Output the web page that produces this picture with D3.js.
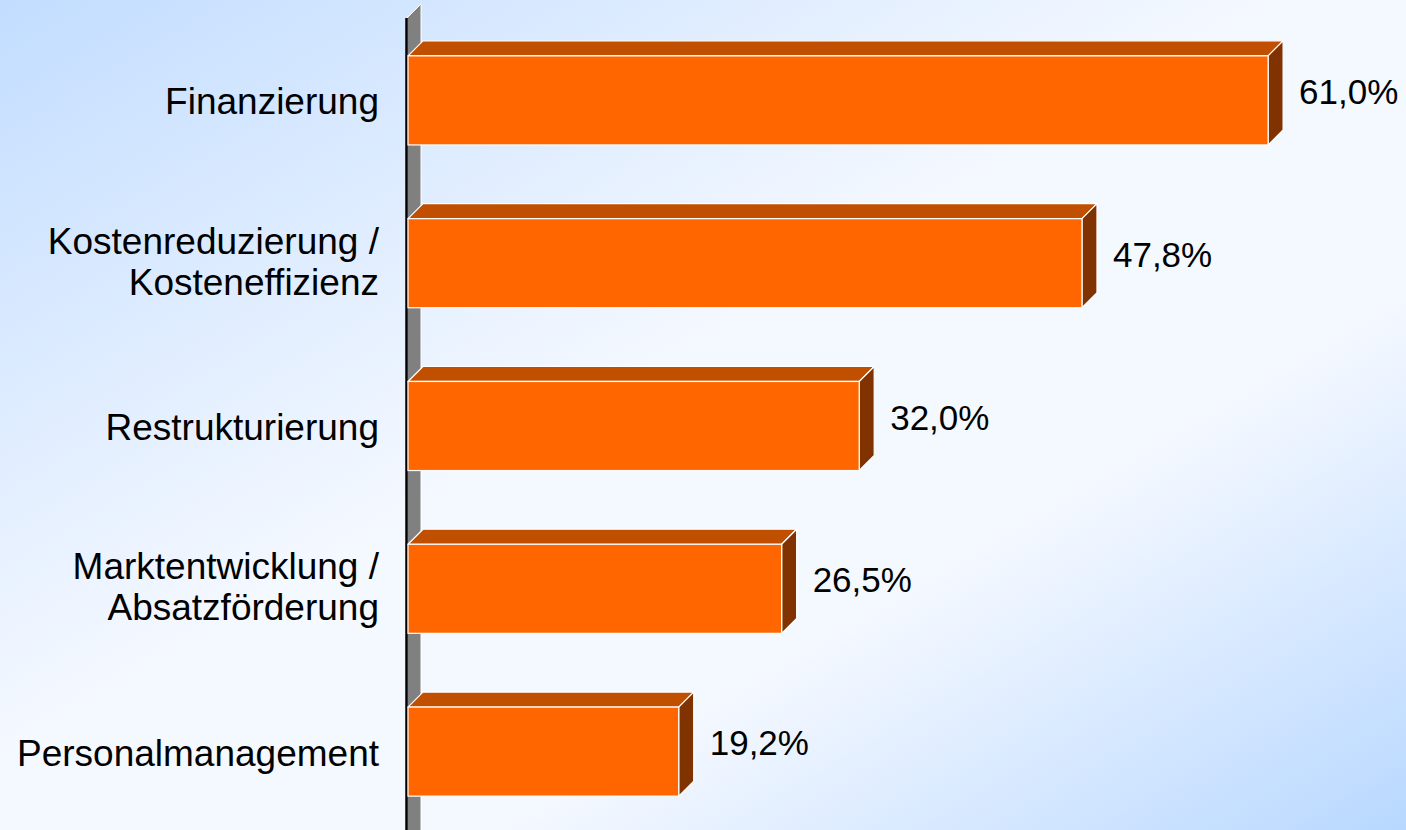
<!DOCTYPE html>
<html>
<head>
<meta charset="utf-8">
<style>
  body { margin: 0; padding: 0; overflow: hidden; }
  svg { display: block; font-family: "Liberation Sans", Arial, sans-serif; }
  .label text { fill: #000; font-size: 37px; text-anchor: end; }
  .value { fill: #000; font-size: 35px; }
</style>
</head>
<body>
<script src="https://cdn.jsdelivr.net/npm/d3@7"></script>
<script>
// chart data
var categories = ["Finanzierung", "Kostenreduzierung / Kosteneffizienz", "Restrukturierung",
                  "Marktentwicklung / Absatzförderung", "Personalmanagement"];
var labelLines = [["Finanzierung"], ["Kostenreduzierung /", "Kosteneffizienz"], ["Restrukturierung"],
                  ["Marktentwicklung /", "Absatzförderung"], ["Personalmanagement"]];
var values = [61.0, 47.8, 32.0, 26.5, 19.2];

var width = 1406, height = 830;
var depth = 15;   // 3d offset of the bars

var svg = d3.select("body").append("svg")
    .attr("width", width)
    .attr("height", height);

// background gradient
var grad = svg.append("defs").append("linearGradient")
    .attr("id", "bg")
    .attr("x1", 0).attr("y1", 0).attr("x2", 1).attr("y2", 1);
grad.append("stop").attr("offset", 0).attr("stop-color", "#c2ddff");
grad.append("stop").attr("offset", 0.45).attr("stop-color", "#f4f8ff");
grad.append("stop").attr("offset", 0.68).attr("stop-color", "#f4f8ff");
grad.append("stop").attr("offset", 1).attr("stop-color", "#b8d8ff");

svg.append("rect")
    .attr("width", width).attr("height", height)
    .attr("fill", "url(#bg)");

// scales
var x = d3.scaleLinear().domain([0, 70]).range([408, 408 + 70 * 14.1]);
var y = d3.scaleBand()
    .domain(categories)
    .range([19, 833])
    .paddingInner(0.453)
    .paddingOuter(0.2265);

var fmt = d3.formatLocale({decimal: ",", thousands: ".", grouping: [3], currency: ["", "€"]}).format(".1f");

// axis wall
var x0 = x(0);
svg.append("path")
    .attr("d", "M" + (x0 - 1) + "," + (height + 5) + "L" + (x0 - 1) + ",18L" + (x0 + 13) + ",4L" + (x0 + 13) + "," + (height + 5) + "Z")
    .attr("fill", "#808080")
    .attr("stroke", "#fff")
    .attr("stroke-width", 1);
svg.append("line")
    .attr("x1", x0 - 1.5).attr("x2", x0 - 1.5)
    .attr("y1", 18).attr("y2", height)
    .attr("stroke", "#000")
    .attr("stroke-width", 2.5);

// bars
var bars = svg.append("g").selectAll("g")
    .data(values)
    .enter().append("g");

bars.append("path") // top face
    .attr("d", function(d, i) {
      var yy = y(categories[i]), x1 = x(d);
      return "M" + x0 + "," + yy + "L" + (x0 + depth) + "," + (yy - depth) +
             "L" + (x1 + depth) + "," + (yy - depth) + "L" + x1 + "," + yy + "Z";
    })
    .attr("fill", "#c04f00")
    .attr("stroke", "#fff").attr("stroke-width", 1.2).attr("stroke-linejoin", "round");

bars.append("path") // side face
    .attr("d", function(d, i) {
      var yy = y(categories[i]), x1 = x(d), h = y.bandwidth();
      return "M" + x1 + "," + yy + "L" + (x1 + depth) + "," + (yy - depth) +
             "L" + (x1 + depth) + "," + (yy + h - depth) + "L" + x1 + "," + (yy + h) + "Z";
    })
    .attr("fill", "#803300")
    .attr("stroke", "#fff").attr("stroke-width", 1.2).attr("stroke-linejoin", "round");

bars.append("rect") // front face
    .attr("x", x0)
    .attr("y", function(d, i) { return y(categories[i]); })
    .attr("width", function(d) { return x(d) - x0; })
    .attr("height", y.bandwidth())
    .attr("fill", "#ff6600")
    .attr("stroke", "#fff").attr("stroke-width", 1.2);

// value labels
bars.append("text")
    .attr("class", "value")
    .attr("x", function(d) { return x(d) + depth + 16; })
    .attr("y", function(d, i) { return y(categories[i]) + (y.bandwidth() - depth) / 2 + 11; })
    .text(function(d) { return fmt(d) + "%"; });

// category labels
var labels = svg.append("g").attr("class", "label")
    .selectAll("text")
    .data(categories)
    .enter().append("text")
    .attr("x", 379)
    .attr("y", function(d, i) {
      return y(d) + y.bandwidth() / 2 + (labelLines[i].length > 1 ? 11 : 14);
    });

labels.each(function(d, i) {
  var lines = labelLines[i];
  var t = d3.select(this);
  lines.forEach(function(l, j) {
    t.append("tspan")
      .attr("x", 379)
      .attr("dy", j === 0 ? (-(lines.length - 1) * 41 / 2) : 41)
      .text(l);
  });
});
</script>
</body>
</html>
